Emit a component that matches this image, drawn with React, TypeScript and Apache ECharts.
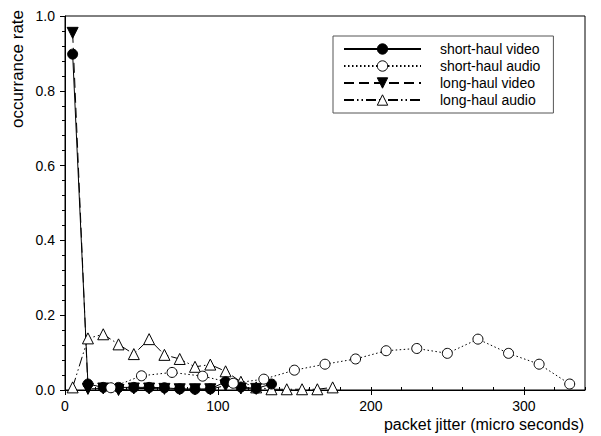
import React, { useEffect, useRef } from "react";
import * as echarts from "echarts";

// x-axis tick labels and ranges
const xTickValues = [0, 100, 200, 300];

// short-haul video (filled circles, solid)
const shortVideoX = [5, 15, 25, 35, 45, 55, 65, 75, 85, 95, 105, 115, 125, 135];
const shortVideoY = [0.898, 0.016, 0.007, 0.007, 0.007, 0.007, 0.006, 0.003, 0.002, 0.003, 0.022, 0.008, 0.004, 0.016];

// short-haul audio (open circles, dotted)
const shortAudioX = [30, 50, 70, 90, 110, 130, 150, 170, 190, 210, 230, 250, 270, 290, 310, 330];
const shortAudioY = [0.006, 0.038, 0.047, 0.037, 0.018, 0.029, 0.053, 0.069, 0.083, 0.105, 0.111, 0.098, 0.136, 0.098, 0.069, 0.016];

// long-haul video (filled down triangles, dashed)
const longVideoX = [5, 15, 25, 35, 45, 55, 65, 75, 85, 95, 105, 115, 125];
const longVideoY = [0.955, 0.003, 0.004, 0.0, 0.004, 0.004, 0.003, 0.002, 0.002, 0.002, 0.012, 0.004, 0.003];

// long-haul audio (open up triangles, dash-dot-dot)
const longAudioX = [5, 15, 25, 35, 45, 55, 65, 75, 85, 95, 105, 115, 125, 135, 145, 155, 165, 175];
const longAudioY = [0.007, 0.138, 0.149, 0.122, 0.096, 0.136, 0.094, 0.083, 0.062, 0.068, 0.05, 0.022, 0.007, 0.002, 0.002, 0.002, 0.002, 0.007];

const seriesNames = ["short-haul video", "short-haul audio", "long-haul video", "long-haul audio"];

const FONT = "'Liberation Sans', Arial, sans-serif";

const zip = (xs: number[], ys: number[]) => xs.map((x, i) => [x, ys[i]]);

export default function App() {
  const ref = useRef<HTMLDivElement>(null);
  useEffect(() => {
    document.body.style.margin = "0";
    if (!ref.current) return;
    const chart = echarts.init(ref.current, undefined, { renderer: "svg" });
    const black = "#000";
    chart.setOption({
      animation: false,
      backgroundColor: "#fff",
      grid: {
        left: 65,
        top: 16,
        right: 16,
        bottom: 46,
        show: true,
        borderColor: black,
        borderWidth: 1,
        backgroundColor: "transparent",
      },
      legend: {
        data: seriesNames,
        orient: "vertical",
        left: 333,
        top: 36,
        padding: [6, 13, 6, 10],
        itemGap: 3,
        itemWidth: 77,
        itemHeight: 13,
        borderColor: "#555",
        borderWidth: 1,
        itemStyle: { borderWidth: 1 },
        textStyle: { fontSize: 14, fontFamily: FONT, color: black, padding: [0, 0, 0, 14] },
      },
      xAxis: [
        {
          type: "value",
          min: 0,
          max: 340,
          interval: 100,
          axisLine: { show: true, lineStyle: { color: black, width: 1 } },
          axisTick: { show: true, customValues: xTickValues, length: 5, lineStyle: { color: black } },
          axisLabel: {
            customValues: xTickValues,
            margin: 9,
            fontSize: 14,
            fontFamily: FONT,
            color: black,
          },
          splitLine: { show: false },
        },
        {
          type: "value",
          min: 0,
          max: 340,
          interval: 20,
          position: "bottom",
          axisLine: { show: false },
          axisTick: { show: true, inside: true, length: 3, lineStyle: { color: black } },
          axisLabel: { show: false },
          splitLine: { show: false },
        },
      ],
      yAxis: {
        type: "value",
        min: 0,
        max: 1,
        interval: 0.2,
        axisLine: { show: true, lineStyle: { color: black, width: 1 } },
        axisTick: { show: true, length: 5, lineStyle: { color: black } },
        minorTick: { show: true, splitNumber: 5, length: 3, lineStyle: { color: black } },
        axisLabel: {
          margin: 10,
          fontSize: 14,
          fontFamily: FONT,
          color: black,
          formatter: (v: number) => v.toFixed(1),
        },
        splitLine: { show: false },
      },
      graphic: [
        {
          type: "text",
          x: 17,
          y: 69,
          rotation: Math.PI / 2,
          style: {
            text: "occurrance rate",
            fontSize: 17,
            fontFamily: FONT,
            fill: black,
            textAlign: "center",
            textVerticalAlign: "middle",
          },
        },
        {
          type: "text",
          x: 584,
          y: 424,
          style: {
            text: "packet jitter (micro seconds)",
            fontSize: 16,
            fontFamily: FONT,
            fill: black,
            textAlign: "right",
            textVerticalAlign: "middle",
          },
        },
      ],
      series: [
        {
          name: seriesNames[2],
          type: "line",
          data: zip(longVideoX, longVideoY),
          symbol: "triangle",
          symbolRotate: 180,
          symbolSize: 11,
          itemStyle: { color: black, borderColor: black },
          lineStyle: { color: black, width: 1, type: [10, 5] },
        },
        {
          name: seriesNames[3],
          type: "line",
          data: zip(longAudioX, longAudioY),
          symbol: "triangle",
          symbolSize: 11,
          itemStyle: { color: "#fff", borderColor: black, borderWidth: 1 },
          lineStyle: { color: black, width: 1, type: [10, 3, 1.5, 3, 1.5, 3] },
        },
        {
          name: seriesNames[0],
          type: "line",
          data: zip(shortVideoX, shortVideoY),
          symbol: "circle",
          symbolSize: 10,
          itemStyle: { color: black, borderColor: black },
          lineStyle: { color: black, width: 1, type: "solid" },
        },
        {
          name: seriesNames[1],
          type: "line",
          data: zip(shortAudioX, shortAudioY),
          symbol: "circle",
          symbolSize: 10,
          itemStyle: { color: "#fff", borderColor: black, borderWidth: 1 },
          lineStyle: { color: black, width: 1, type: [1.5, 2.5] },
        },
      ],
    });
    return () => chart.dispose();
  }, []);
  return <div ref={ref} style={{ width: 601, height: 436 }} />;
}
